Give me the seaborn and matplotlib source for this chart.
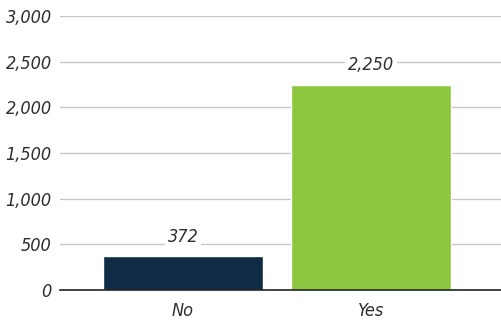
import matplotlib
matplotlib.use("Agg")
import matplotlib.pyplot as plt
import seaborn as sns
import pandas as pd

categories = ["No", "Yes"]
values = [372, 2250]
bar_colors = ["#0f2b45", "#8dc63f"]
y_ticks = [0, 500, 1000, 1500, 2000, 2500, 3000]

sns.set_theme(style="white")
plt.rcParams["font.family"] = ["DejaVu Sans"]
plt.rcParams["font.stretch"] = "condensed"

df = pd.DataFrame({"answer": categories, "count": values})

fig = plt.figure(figsize=(5.02, 3.26), dpi=100)
ax = fig.add_axes([60 / 502, 1 - 290 / 326, 442 / 502, 274 / 326])

sns.barplot(data=df, x="answer", y="count", hue="answer", palette=bar_colors,
            width=0.85, legend=False, ax=ax, zorder=3, saturation=1)

ax.set_ylim(0, 3000)
ax.set_xlim(-0.654, 1.697)
ax.set_yticks(y_ticks)
ax.set_yticklabels([f"{v:,}" for v in y_ticks])
ax.yaxis.grid(True, color="#c4c4c4", linewidth=0.9, zorder=0)
ax.xaxis.grid(False)
for side in ["top", "right", "left"]:
    ax.spines[side].set_visible(False)
ax.spines["bottom"].set_color("#222222")
ax.spines["bottom"].set_linewidth(1.2)
ax.spines["bottom"].set_zorder(4)
ax.set_xlabel("")
ax.set_ylabel("")
ax.tick_params(axis="both", length=0, labelsize=13, labelcolor="#2e2e2e")
ax.tick_params(axis="y", pad=6)
ax.tick_params(axis="x", pad=9)
for lab in ax.get_xticklabels() + ax.get_yticklabels():
    lab.set_fontstyle("italic")

for i, v in enumerate(values):
    ax.text(i, v + 110, f"{v:,}", ha="center", va="bottom", fontsize=13,
            fontstyle="italic", color="#2e2e2e", zorder=5,
            bbox=dict(facecolor="white", edgecolor="none", pad=2))

fig.savefig("out.png", dpi=100)
